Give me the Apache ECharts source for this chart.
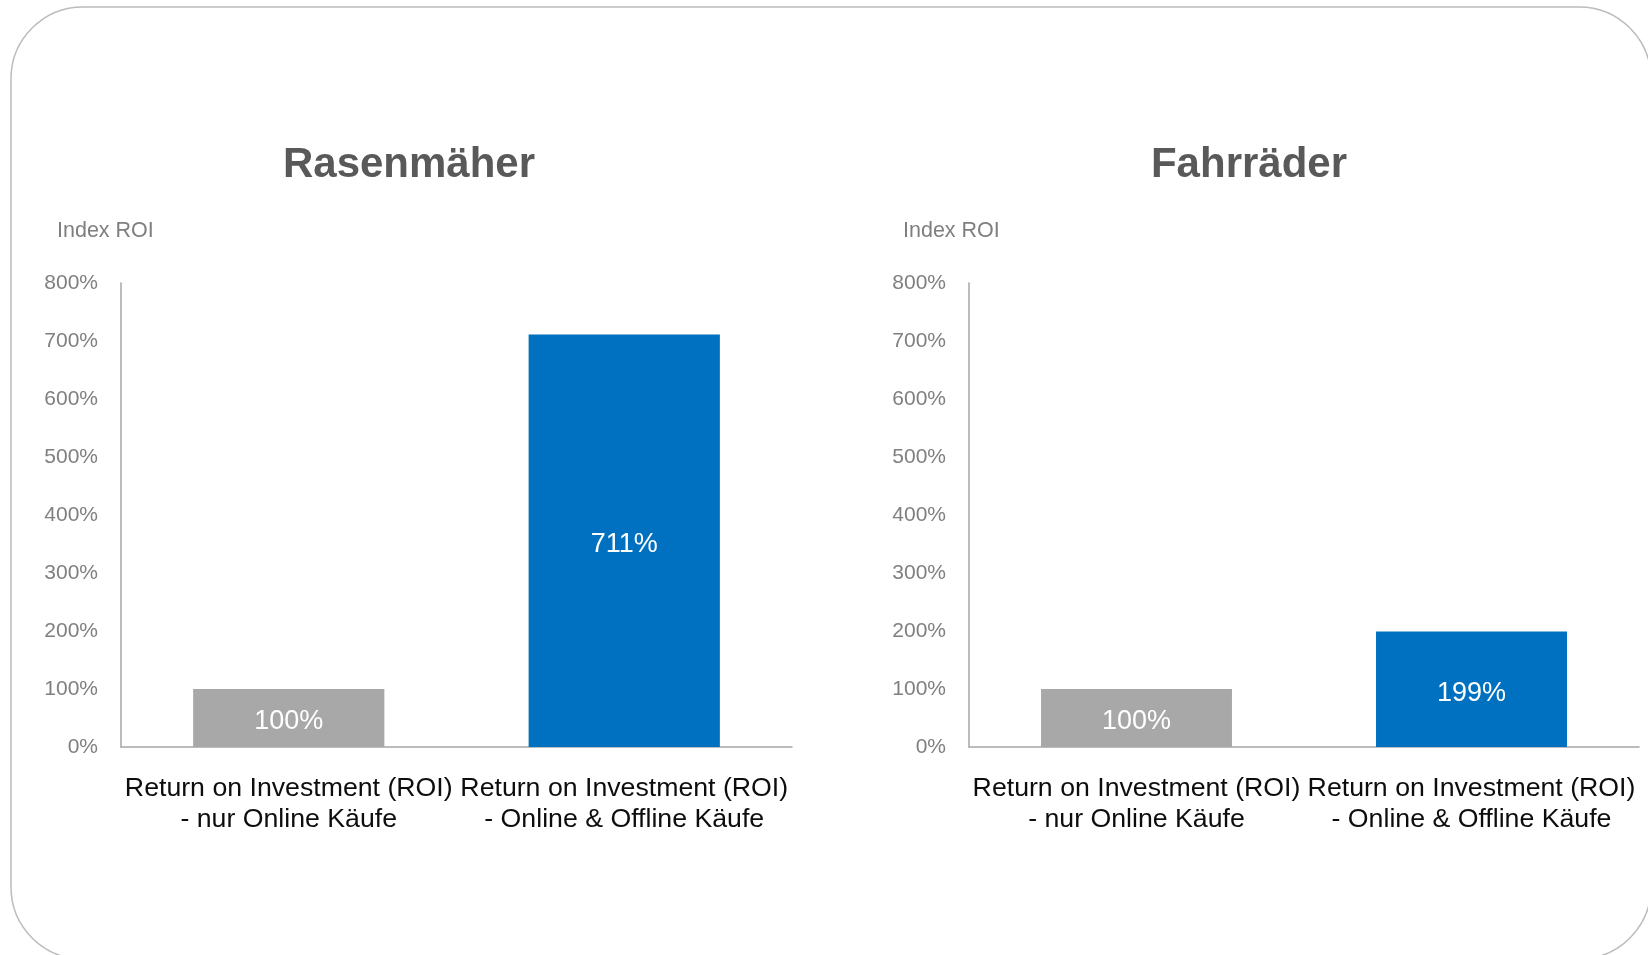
<!DOCTYPE html>
<html>
<head>
<meta charset="utf-8">
<script src="https://cdn.jsdelivr.net/npm/echarts@6/dist/echarts.min.js"></script>
<style>
html,body{margin:0;padding:0;background:#fff;}
#c{width:1648px;height:955px;}
</style>
</head>
<body>
<div id="c"></div>
<script>
var categories = ['Return on Investment (ROI)\n- nur Online Käufe', 'Return on Investment (ROI)\n- Online & Offline Käufe'];
var chartTitles = ['Rasenmäher', 'Fahrräder'];
var rasenmaeherValues = [100, 711];
var fahrraederValues = [100, 199];
var barColors = ['#a8a8a8', '#0070c0'];
var axisName = 'Index ROI';
var yMin = 0, yMax = 800, yInterval = 100;

var FONT = '"Liberation Sans", Arial, sans-serif';
var chart = echarts.init(document.getElementById('c'));

function makeData(vals) {
  return vals.map(function (v, i) {
    return { value: v, itemStyle: { color: barColors[i] } };
  });
}

function yAxisCfg(gi) {
  return {
    type: 'value', gridIndex: gi, min: yMin, max: yMax, interval: yInterval,
    axisLine: { show: true, lineStyle: { color: '#a6a6a6', width: 1.5 } },
    axisTick: { show: false },
    splitLine: { show: false },
    axisLabel: { formatter: '{value}%', color: '#7f7f7f', fontSize: 21, fontFamily: FONT, margin: 23 }
  };
}
function xAxisCfg(gi) {
  return {
    type: 'category', gridIndex: gi, data: categories,
    axisLine: { show: true, lineStyle: { color: '#a6a6a6', width: 1.5 } },
    axisTick: { show: false },
    axisLabel: { interval: 0, color: '#0d0d0d', fontSize: 26.7, lineHeight: 31, fontFamily: FONT, margin: 26 }
  };
}
function seriesCfg(gi, vals) {
  return {
    type: 'bar', xAxisIndex: gi, yAxisIndex: gi, data: makeData(vals),
    barWidth: '57%',
    label: {
      show: true, position: 'inside', formatter: '{c}%', offset: [0, 4],
      color: '#ffffff', fontSize: 27, fontFamily: FONT
    }
  };
}

chart.setOption({
  animation: false,
  graphic: [{
    type: 'rect',
    shape: { x: 11, y: 7, width: 1640, height: 952, r: 72 },
    style: { fill: 'none', stroke: '#bcbcbc', lineWidth: 1.5 },
    z: -1
  }],
  title: [
    { text: chartTitles[0], left: 404, top: 139, textAlign: 'center',
      textStyle: { fontSize: 42, fontWeight: 'bold', color: '#595959', fontFamily: FONT } },
    { text: chartTitles[1], left: 1244, top: 139, textAlign: 'center',
      textStyle: { fontSize: 42, fontWeight: 'bold', color: '#595959', fontFamily: FONT } },
    { text: axisName, left: 52, top: 215,
      textStyle: { fontSize: 21.5, fontWeight: 'normal', color: '#7f7f7f', fontFamily: FONT } },
    { text: axisName, left: 898, top: 215,
      textStyle: { fontSize: 21.5, fontWeight: 'normal', color: '#7f7f7f', fontFamily: FONT } }
  ],
  grid: [
    { left: 121, top: 283, width: 671, height: 464 },
    { left: 969, top: 283, width: 670, height: 464 }
  ],
  xAxis: [xAxisCfg(0), xAxisCfg(1)],
  yAxis: [yAxisCfg(0), yAxisCfg(1)],
  series: [seriesCfg(0, rasenmaeherValues), seriesCfg(1, fahrraederValues)]
});
</script>
</body>
</html>
